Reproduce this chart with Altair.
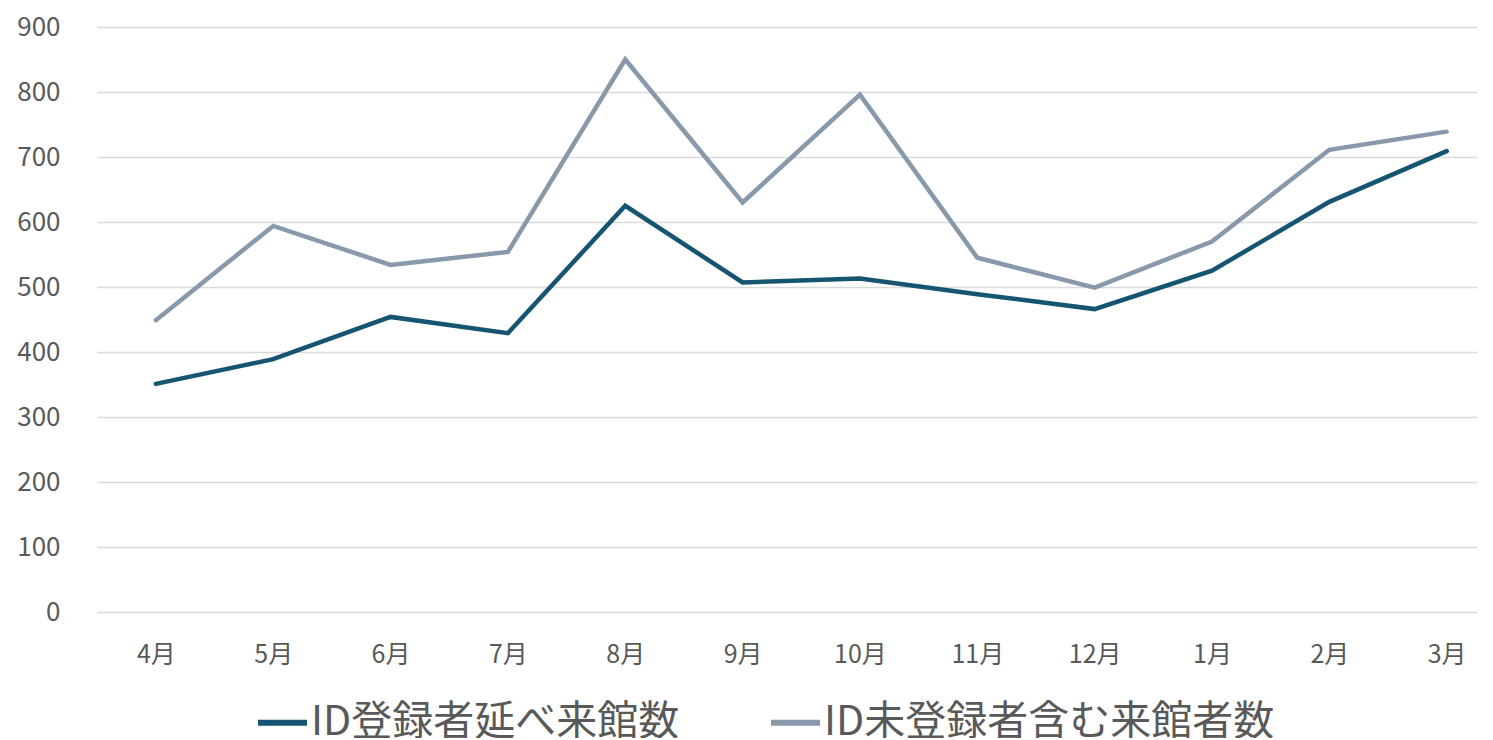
import altair as alt
import pandas as pd

months = ["4月", "5月", "6月", "7月", "8月", "9月", "10月", "11月", "12月", "1月", "2月", "3月"]
series_names = ["ID登録者延べ来館数", "ID未登録者含む来館者数"]
registered = [351, 389, 454, 429, 625, 507, 513, 489, 466, 525, 631, 709]
total = [449, 594, 534, 554, 850, 630, 796, 545, 499, 570, 711, 739]
colors = ["#165571", "#8799ab"]
y_ticks = [0, 100, 200, 300, 400, 500, 600, 700, 800, 900]

rows = []
for s, vals in zip(series_names, [registered, total]):
    for i, (m, v) in enumerate(zip(months, vals)):
        rows.append({"month": m, "idx": i, "series": s, "value": v})
df = pd.DataFrame(rows)

FONT = "Noto Sans CJK JP"
TXT = "#595959"

chart = (
    alt.Chart(df)
    .mark_line(strokeWidth=4.5, strokeCap="round")
    .encode(
        x=alt.X(
            "month:N",
            sort=months,
            scale=alt.Scale(type="point", padding=0.38, align=0.66),
            axis=alt.Axis(
                title=None, labelAngle=0, domain=False, ticks=False,
                labelPadding=30, labelFontSize=25, labelColor=TXT, labelFont=FONT,
                grid=False,
            ),
        ),
        y=alt.Y(
            "value:Q",
            scale=alt.Scale(domain=[0, 900], nice=False),
            axis=alt.Axis(
                title=None, values=y_ticks, domain=False, ticks=False,
                labelPadding=37, labelFontSize=26, labelColor=TXT, labelFont=FONT,
                grid=True, gridColor="#d9d9d9", gridWidth=1.5,
            ),
        ),
        color=alt.Color(
            "series:N",
            sort=series_names,
            scale=alt.Scale(domain=series_names, range=colors),
            legend=alt.Legend(
                title=None, orient="none", direction="horizontal",
                legendX=158, legendY=668, padding=0,
                symbolType="stroke", symbolSize=2400, symbolStrokeWidth=6,
                labelFontSize=41, labelFont=FONT, labelColor=TXT,
                labelOffset=1, columnPadding=79,
                labelLimit=700,
            ),
        ),
        order="idx:Q",
    )
    .properties(
        width=1380,
        height=585,
        autosize=alt.AutoSizeParams(type="none"),
        padding={"left": 89, "top": 19, "right": 8, "bottom": 126},
    )
    .configure(font=FONT)
    .configure_view(stroke=None, strokeWidth=0)
)

chart.save("out.html", embed_options={"renderer": "svg", "actions": False})
